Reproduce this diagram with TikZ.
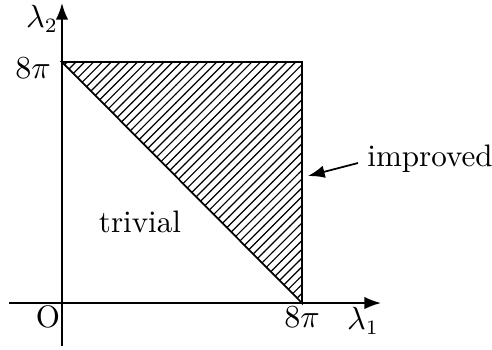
\documentclass[tikz,border=0pt]{standalone}
\usepackage{amsmath,amssymb}
\usepackage{tikz}
\usetikzlibrary{arrows.meta,patterns}

\begin{document}
\begin{tikzpicture}[
  x=0.012cm, y=-0.012cm,
  axis/.style={-Latex, semithick},
  lab/.style={inner sep=0pt, font=\fontsize{10.6}{13}\selectfont},
  arr/.style={-Latex, semithick}
]
  \useasboundingbox (0,0) rectangle (492,349);
  % region
  \coordinate (O) at (62,303);
  \coordinate (A) at (62,62);
  \coordinate (B) at (302,62);
  \coordinate (C) at (302,303);
  \fill[pattern=north east lines] (A) -- (B) -- (C) -- cycle;
  \draw[semithick] (A) -- (B) -- (C) -- cycle;
  % axes
  \coordinate (xs) at (9,303);
  \coordinate (xe) at (381,303);
  \coordinate (ys) at (62,346);
  \coordinate (ye) at (62,3);
  \draw[axis] (xs) -- (xe);
  \draw[axis] (ys) -- (ye);
  % labels
  \node[lab] (l2) at (42,19) {$\lambda_2$};
  \node[lab] (ytick) at (33,68) {$8\pi$};
  \node[lab] (orig) at (48,317) {O};
  \node[lab] (xtick) at (302,317) {$8\pi$};
  \node[lab] (l1) at (363,321) {$\lambda_1$};
  \node[lab] (triv) at (140,222) {trivial};
  \node[lab] (impr) at (430,159) {improved};
  \coordinate (as) at (358,163);
  \coordinate (tip) at (308,176);
  \draw[arr] (as) -- (tip);
\end{tikzpicture}
\end{document}
